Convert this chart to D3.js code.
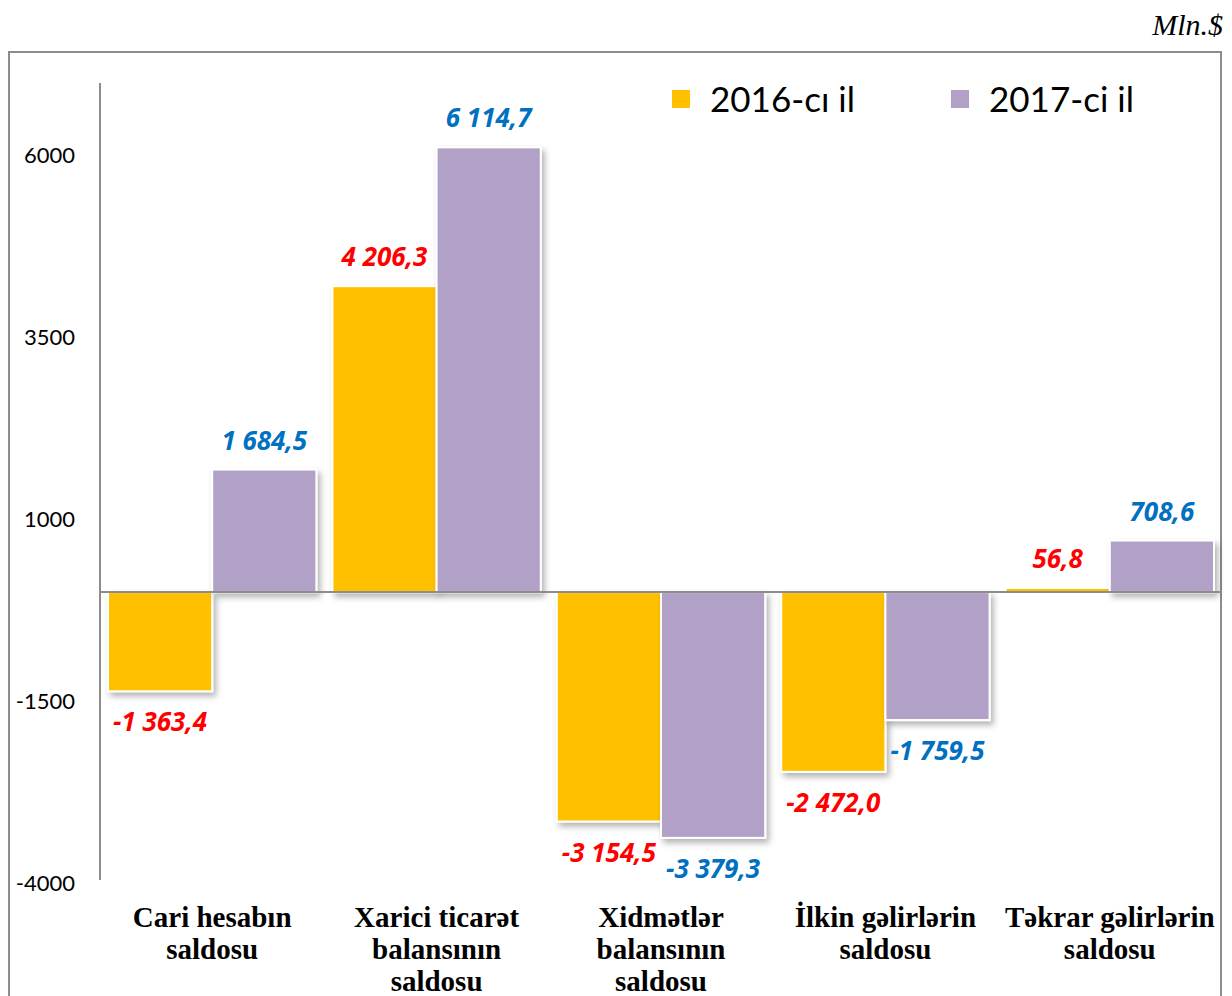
<!DOCTYPE html>
<html>
<head>
<meta charset="utf-8">
<script src="https://cdn.jsdelivr.net/npm/d3@7"></script>
<style>
  body { margin: 0; background: #fff; }
  svg { display: block; }
</style>
</head>
<body>
<div id="chart"></div>
<script>
var categories = [
  ['Cari hesabın', 'saldosu'],
  ['Xarici ticarət', 'balansının', 'saldosu'],
  ['Xidmətlər', 'balansının', 'saldosu'],
  ['İlkin gəlirlərin', 'saldosu'],
  ['Təkrar gəlirlərin', 'saldosu']
];
var series = ['2016-cı il', '2017-ci il'];
var values2016 = [-1363.4, 4206.3, -3154.5, -2472.0, 56.8];
var values2017 = [1684.5, 6114.7, -3379.3, -1759.5, 708.6];
var tickValues = [-4000, -1500, 1000, 3500, 6000];

var colors = ['#FFC000', '#B2A1C7'];
var labelColors = ['#FF0000', '#0070C0'];

var size = { width: 1232, height: 996 };
var plot = { left: 100, right: 1222, top: 83, bottom: 883 };

function fmt(v) {
  var s = Math.abs(v).toFixed(1).split('.');
  var intPart = s[0].replace(/\B(?=(\d{3})+(?!\d))/g, ' ');
  return (v < 0 ? '-' : '') + intPart + ',' + s[1];
}

var data = [];
categories.forEach(function (c, i) {
  data.push({ cat: i, s: 0, value: values2016[i] });
  data.push({ cat: i, s: 1, value: values2017[i] });
});

var svg = d3.select('#chart').append('svg')
  .attr('width', size.width)
  .attr('height', size.height);

var defs = svg.append('defs');
var filter = defs.append('filter').attr('id', 'shadow')
  .attr('x', '-10%').attr('y', '-10%').attr('width', '130%').attr('height', '130%');
filter.append('feDropShadow')
  .attr('dx', 3).attr('dy', 4).attr('stdDeviation', 3)
  .attr('flood-color', '#000').attr('flood-opacity', 0.3);

// frame
svg.append('rect')
  .attr('x', 9).attr('y', 52)
  .attr('width', 1212).attr('height', 960)
  .attr('fill', 'none')
  .attr('stroke', '#8c8c8c')
  .attr('stroke-width', 2);

svg.append('text')
  .attr('x', 1223).attr('y', 35)
  .attr('text-anchor', 'end')
  .style('font-family', '"Liberation Serif", serif')
  .style('font-style', 'italic')
  .style('font-size', '30px')
  .text('Mln.$');

var y = d3.scaleLinear()
  .domain([-4000, 7000])
  .range([plot.bottom, plot.top]);

var x0 = d3.scaleBand()
  .domain(d3.range(categories.length))
  .range([plot.left, plot.right]);

var x1 = d3.scaleBand()
  .domain([0, 1])
  .range([0, x0.bandwidth()])
  .paddingOuter(0.077);

// bars
svg.append('g').selectAll('rect')
  .data(data)
  .enter().append('rect')
  .attr('x', d => x0(d.cat) + x1(d.s))
  .attr('y', d => y(Math.max(0, d.value)))
  .attr('width', x1.bandwidth())
  .attr('height', d => Math.abs(y(d.value) - y(0)))
  .attr('fill', d => colors[d.s])
  .attr('stroke', '#fff')
  .attr('stroke-width', 2)
  .attr('filter', 'url(#shadow)');

// zero line
svg.append('line')
  .attr('x1', plot.left).attr('x2', plot.right)
  .attr('y1', y(0)).attr('y2', y(0))
  .attr('stroke', '#8c8c8c')
  .attr('stroke-width', 2);

// y axis
var yAxis = d3.axisLeft(y)
  .tickValues(tickValues)
  .tickSize(0)
  .tickPadding(25)
  .tickFormat(d => String(d));

var ax = svg.append('g')
  .attr('transform', `translate(${plot.left}, 0)`)
  .call(yAxis);
ax.select('.domain')
  .attr('d', `M0,${plot.top}V${plot.bottom - 3}`)
  .attr('stroke', '#8c8c8c')
  .attr('stroke-width', 2);
ax.selectAll('text')
  .style('font-family', 'Lato, "Open Sans", sans-serif')
  .style('font-size', '22px')
  .attr('fill', '#000');

// value labels
svg.append('g').selectAll('text')
  .data(data)
  .enter().append('text')
  .attr('x', d => x0(d.cat) + x1(d.s) + x1.bandwidth() / 2)
  .attr('y', d => d.value >= 0 ? y(d.value) - 20 : y(d.value) + 40)
  .attr('text-anchor', 'middle')
  .attr('fill', d => labelColors[d.s])
  .style('font-family', '"Open Sans", sans-serif')
  .style('font-weight', 'bold')
  .style('font-style', 'italic')
  .style('font-size', '26px')
  .text(d => fmt(d.value));

// category labels
var cat = svg.append('g').selectAll('text')
  .data(categories)
  .enter().append('text')
  .attr('x', (d, i) => x0(i) + x0.bandwidth() / 2)
  .attr('y', 927)
  .attr('text-anchor', 'middle')
  .style('font-family', '"Liberation Serif", serif')
  .style('font-weight', 'bold')
  .style('font-size', '29px');
cat.selectAll('tspan')
  .data(d => d)
  .enter().append('tspan')
  .attr('x', function () { return d3.select(this.parentNode).attr('x'); })
  .attr('dy', (d, i) => i === 0 ? 0 : 32)
  .text(d => d);

// legend
var legend = svg.append('g').selectAll('g')
  .data(series)
  .enter().append('g')
  .attr('transform', (d, i) => `translate(${673 + i * 279}, 99)`);
legend.append('rect')
  .attr('x', -1).attr('y', -9)
  .attr('width', 18).attr('height', 18)
  .attr('fill', (d, i) => colors[i]);
legend.append('text')
  .attr('x', 37).attr('y', 13)
  .style('font-family', 'Lato, "Open Sans", sans-serif')
  .style('font-size', '35px')
  .text(d => d);
</script>
</body>
</html>
